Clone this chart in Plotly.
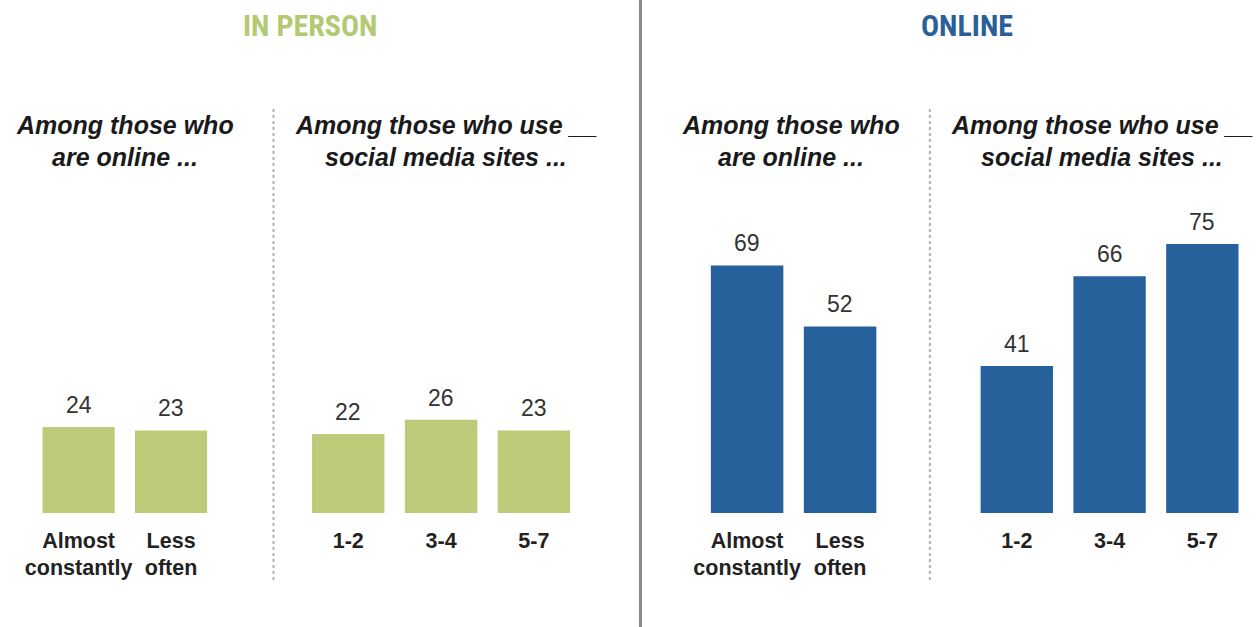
import plotly.graph_objects as go

# ---- data ----
freq_categories = ["Almost<br>constantly", "Less<br>often"]
sites_categories = ["1-2", "3-4", "5-7"]

in_person_freq = [24, 23]
in_person_sites = [22, 26, 23]
online_freq = [69, 52]
online_sites = [41, 66, 75]

panel_titles = ["IN PERSON", "ONLINE"]
subtitle_online = ["Among those who", "are online ..."]
subtitle_sites = ["Among those who use __", "social media sites ..."]

# ---- styles ----
GREEN = "#bbcb77"
BLUE = "#27619b"
TITLE_GREEN = "#b3c973"
TITLE_BLUE = "#2b5f98"
W, H = 1256, 627
NARROW = "Liberation Sans Narrow, Arial Narrow, Roboto Condensed, sans-serif"
SANS = "Liberation Sans, Arial, sans-serif"


def px_x(p):
    return p / W


def px_y(p):
    return 1 - p / H


x_domains = [
    [px_x(25.5), px_x(211.5)],
    [px_x(296.5), px_x(576.5)],
    [px_x(697.5), px_x(884.5)],
    [px_x(968.8), px_x(1248.7)],
]
y_domain = [px_y(513), px_y(226)]

series = [
    (freq_categories, in_person_freq, GREEN),
    (sites_categories, in_person_sites, GREEN),
    (freq_categories, online_freq, BLUE),
    (sites_categories, online_sites, BLUE),
]

fig = go.Figure()
annotations = []
layout_axes = {}
for i, (cats, vals, color) in enumerate(series):
    n = i + 1
    xa = "x" if n == 1 else f"x{n}"
    ya = "y" if n == 1 else f"y{n}"
    fig.add_trace(go.Bar(
        x=cats, y=vals, xaxis=xa, yaxis=ya,
        marker=dict(color=color, line=dict(width=0)),
        hoverinfo="skip", showlegend=False,
    ))
    for c, v in zip(cats, vals):
        annotations.append(dict(
            x=c, y=v, xref=xa, yref=ya, text=str(v), showarrow=False,
            yanchor="bottom", yshift=7,
            font=dict(family=SANS, size=23, color="#333333"),
        ))
    key = "" if n == 1 else str(n)
    layout_axes[f"xaxis{key}"] = dict(
        domain=x_domains[i], anchor=ya, type="category",
        range=[-0.5, len(cats) - 0.5],
        showgrid=False, zeroline=False, showline=False, ticks="",
        tickfont=dict(family=SANS, size=21.5, color="#222222", weight="bold"),
        ticklabelstandoff=12, fixedrange=True,
    )
    layout_axes[f"yaxis{key}"] = dict(
        domain=y_domain, anchor=xa, range=[0, 80],
        showgrid=False, zeroline=False, showline=False,
        showticklabels=False, ticks="", fixedrange=True,
    )

# panel titles
for title, xc, col in zip(panel_titles, [305, 965], [TITLE_GREEN, TITLE_BLUE]):
    annotations.append(dict(
        x=px_x(xc), y=px_y(25), xref="paper", yref="paper", text=title,
        showarrow=False, xanchor="center", yanchor="middle",
        font=dict(family=NARROW, size=30, color=col, weight="bold"),
    ))

# subtitles (one annotation per line)
for lines, xc in zip([subtitle_online, subtitle_sites, subtitle_online, subtitle_sites],
                     [119, 441, 788, 1101]):
    for line, yc in zip(lines, [125, 157]):
        annotations.append(dict(
            x=px_x(xc), y=px_y(yc), xref="paper", yref="paper", text=line,
            showarrow=False, xanchor="center", yanchor="middle", align="center",
            font=dict(family=SANS, size=25, color="#1a1a1a",
                      weight="bold", style="italic"),
        ))

shapes = [
    dict(type="line", xref="paper", yref="paper", x0=px_x(637), x1=px_x(637), y0=0, y1=1,
         line=dict(color="#8a8a8a", width=3)),
    dict(type="line", xref="paper", yref="paper", x0=px_x(268), x1=px_x(268), y0=px_y(580), y1=px_y(108),
         line=dict(color="#b0b0b0", width=2, dash="dot")),
    dict(type="line", xref="paper", yref="paper", x0=px_x(928), x1=px_x(928), y0=px_y(580), y1=px_y(108),
         line=dict(color="#b0b0b0", width=2, dash="dot")),
]

fig.update_layout(
    width=W, height=H,
    margin=dict(l=0, r=0, t=0, b=0),
    paper_bgcolor="white", plot_bgcolor="white",
    bargap=0.22,
    annotations=annotations, shapes=shapes,
    **layout_axes,
)

fig.write_html("out.html", config={"displayModeBar": False},
               post_script="document.body.style.margin='0';document.body.style.overflow='hidden';")
